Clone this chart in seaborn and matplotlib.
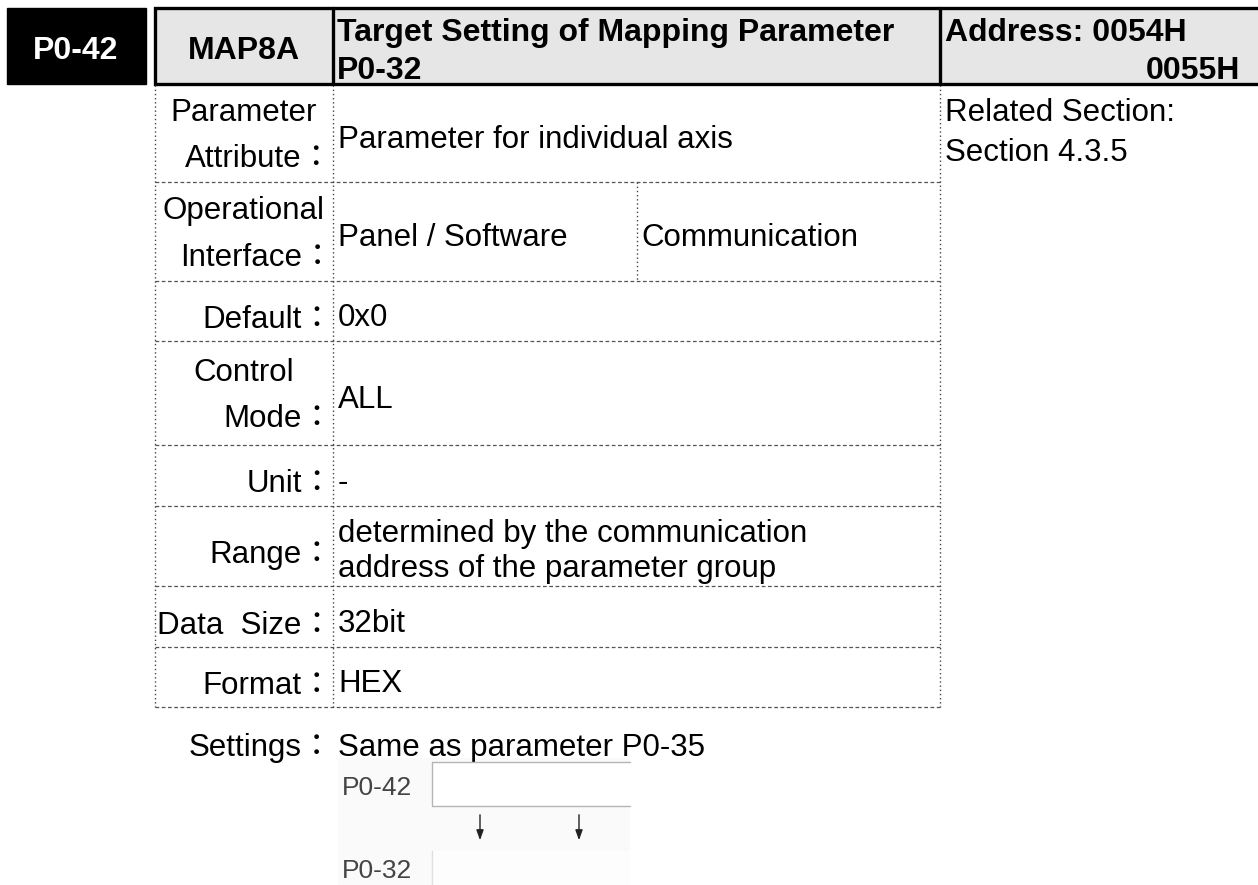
import matplotlib
matplotlib.use("Agg")
import matplotlib.pyplot as plt
import seaborn as sns
from matplotlib.patches import Rectangle

# ---- content ----
param_code = "P0-42"
param_name = "MAP8A"
title_lines = ["Target Setting of Mapping Parameter", "P0-32"]
address_lines = ["Address: 0054H", "0055H"]
related_lines = ["Related Section:", "Section 4.3.5"]

row_labels = [
    ["Parameter", "Attribute："],
    ["Operational", "Interface："],
    ["Default："],
    ["Control", "Mode："],
    ["Unit："],
    ["Range："],
    ["Data  Size："],
    ["Format："],
]
row_values = [
    ["Parameter for individual axis"],
    ["Panel / Software"],
    ["0x0"],
    ["ALL"],
    ["-"],
    ["determined by the communication", "address of the parameter group"],
    ["32bit"],
    ["HEX"],
]
interface_extra = "Communication"
settings_label = "Settings："
settings_text = "Same as parameter P0-35"
diagram_labels = ["P0-42", "P0-32"]

# ---- layout (pixels) ----
W, H = 1258, 885
row_edges = [84, 182, 281, 341, 445, 506, 586, 647, 707]
x_left, x_lab, x_split, x_right = 155, 333, 637, 940
head_top, head_bot = 8, 84

sns.set_theme(style="white")
plt.rcParams["font.family"] = ["Liberation Sans", "Noto Sans CJK JP"]
plt.rcParams["text.color"] = "black"
FS = 22.5
head_font = dict(fontsize=23, fontweight="bold")

fig = plt.figure(figsize=(W / 100, H / 100), dpi=100)
ax = fig.add_axes([0, 0, 1, 1])
ax.set_xlim(0, W)
ax.set_ylim(H, 0)
ax.axis("off")

# header
ax.add_patch(Rectangle((7, head_top), 139, head_bot - head_top, color="black", zorder=2))
ax.add_patch(Rectangle((x_left, head_top), W + 10 - x_left, head_bot - head_top,
                       facecolor="#e6e6e6", edgecolor="black", lw=2.4, zorder=2))
for xv in (x_lab, x_right):
    ax.plot([xv, xv], [head_top, head_bot], color="black", lw=2.4, zorder=3)
ax.text(76, 59, param_code, color="white", ha="center", va="baseline", zorder=4, **head_font)
ax.text((x_left + x_lab) / 2, 59, param_name, ha="center", va="baseline", zorder=4, **head_font)
ax.text(x_lab + 4, 41, title_lines[0], ha="left", va="baseline", zorder=4, **head_font)
ax.text(x_lab + 4, 79, title_lines[1], ha="left", va="baseline", zorder=4, **head_font)
ax.text(x_right + 5, 41, address_lines[0], ha="left", va="baseline", zorder=4, **head_font)
ax.text(1240, 79, address_lines[1], ha="right", va="baseline", zorder=4, **head_font)

# body grid
hdash = dict(color="#555555", lw=0.9, linestyle=(0, (3, 2)))
vdot = dict(color="#444444", lw=1.0, linestyle=(0, (1, 2)))
for yv in row_edges[1:]:
    ax.plot([x_left, x_right], [yv, yv], **hdash)
for xv in (x_left, x_lab, x_right):
    ax.plot([xv, xv], [head_bot + 1, row_edges[-1]], **vdot)
ax.plot([x_split, x_split], [row_edges[1], row_edges[2]], **vdot)

# body text
for i, (labs, vals) in enumerate(zip(row_labels, row_values)):
    top, bot = row_edges[i], row_edges[i + 1]
    mid = (top + bot) / 2
    if len(labs) == 2:
        ax.text((x_left + x_lab) / 2, mid - 12, labs[0], fontsize=FS, ha="center", va="baseline")
        ax.text(x_lab, mid + 34, labs[1], fontsize=FS, ha="right", va="baseline")
    else:
        ax.text(x_lab, mid + 17, labs[0], fontsize=FS, ha="right", va="baseline")
    if len(vals) == 2:
        ax.text(x_lab + 5, mid - 4, vals[0], fontsize=FS, ha="left", va="baseline")
        ax.text(x_lab + 5, mid + 31, vals[1], fontsize=FS, ha="left", va="baseline")
    else:
        ax.text(x_lab + 5, mid + 15, vals[0], fontsize=FS, ha="left", va="baseline")
    if i == 1:
        ax.text(x_split + 4, mid + 15, interface_extra, fontsize=FS, ha="left", va="baseline")

ax.text(x_right + 5, 121, related_lines[0], fontsize=FS, ha="left", va="baseline")
ax.text(x_right + 5, 161, related_lines[1], fontsize=FS, ha="left", va="baseline")

ax.text(x_lab, 756, settings_label, fontsize=FS, ha="right", va="baseline")
ax.text(x_lab + 5, 756, settings_text, fontsize=FS, ha="left", va="baseline")

# small diagram (screenshot-like inset)
ax.add_patch(Rectangle((338, 758), 292, 130, facecolor="#fafafa", edgecolor="none", zorder=1))
ax.add_patch(Rectangle((432, 762), 198, 44, facecolor="white", edgecolor="none", zorder=2))
ax.plot([630, 432, 432, 630], [762, 762, 806, 806], color="#b5b5b5", lw=1.0, zorder=3)
ax.add_patch(Rectangle((432, 851), 198, 40, facecolor="#fdfdfd", edgecolor="none", zorder=2))
ax.plot([432, 432], [851, 885], color="#e0e0e0", lw=1.0, zorder=3)
ax.text(342, 795, diagram_labels[0], fontsize=19, color="#444444", ha="left", va="baseline", zorder=3)
ax.text(342, 878, diagram_labels[1], fontsize=19, color="#444444", ha="left", va="baseline", zorder=3)
for xa in (480, 579):
    ax.annotate("", xy=(xa, 843), xytext=(xa, 812),
                arrowprops=dict(arrowstyle="-|>,head_length=0.5,head_width=0.18", color="#222222", lw=1.0),
                zorder=3)

fig.savefig("out.png", dpi=100)
